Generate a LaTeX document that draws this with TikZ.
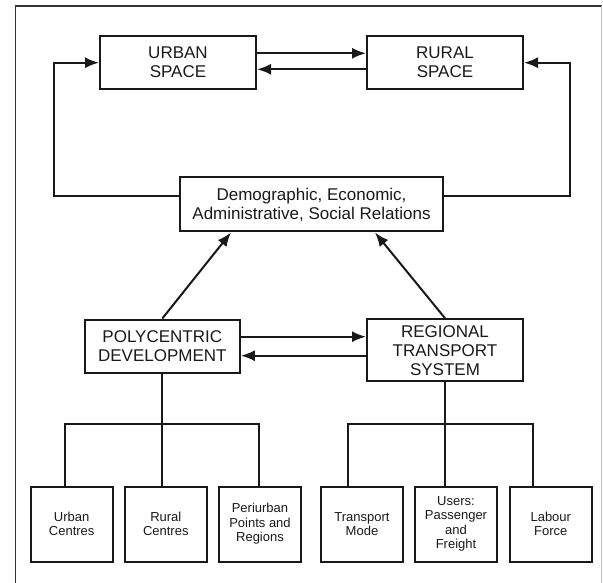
\documentclass[tikz,border=0pt]{standalone}
\usepackage{fontspec}
\setmainfont{Liberation Sans}
\usetikzlibrary{arrows.meta}

\begin{document}
\begin{tikzpicture}[x=1pt,y=-1pt,line width=2pt,color=black!90,
  box/.style={draw,align=center,inner sep=0pt,font=\fontsize{17}{19}\selectfont},
  leaf/.style={box,minimum width=82pt,minimum height=75pt,font=\fontsize{13}{14.5}\selectfont},
  arr/.style={-{Latex[length=14pt,width=11pt]}}]
\useasboundingbox (0,0) rectangle (603,583);
% frame
\draw[line width=1.5pt,black!80] (15.5,583) -- (15.5,6) -- (601.7,6);
\draw[line width=1pt,black!25] (601.7,6) -- (601.7,583);

% top row
\node[box,minimum width=156pt,minimum height=53pt] (urban) at (178,62.7) {URBAN\\SPACE};
\node[box,minimum width=156pt,minimum height=53pt] (rural) at (445,62.7) {RURAL\\SPACE};
\node[box,minimum width=263pt,minimum height=54pt] (demo) at (311.5,204.5)
  {Demographic, Economic,\\Administrative, Social Relations};
\node[box,minimum width=155pt,minimum height=53pt] (poly) at (162.3,346) {POLYCENTRIC\\DEVELOPMENT};
\node[box,minimum width=156pt,minimum height=62pt] (reg) at (445,350.2) {REGIONAL\\TRANSPORT\\SYSTEM};

% leaves
\foreach \n/\x/\t in {uc/71.7/{Urban\\Centres},rc/165.8/{Rural\\Centres},
    pp/260/{Periurban\\Points and\\Regions},tm/362/{Transport\\Mode},
    us/456/{Users:\\Passenger\\and\\Freight},lf/550.8/{Labour\\Force}}
  \node[leaf] (\n) at (\x,524) {\t};

% arrows
\draw[arr] ([yshift=9.4pt]urban.east) -- ([yshift=9.4pt]urban.east -| rural.west);
\draw[arr] ([yshift=-6.6pt]rural.west) -- ([yshift=-6.6pt]rural.west -| urban.east);
\coordinate (loopl) at (54,130);
\coordinate (loopr) at (570,130);
\draw[arr] ([yshift=8.8pt]demo.west) -| (loopl) |- (urban.west);
\draw[arr] ([yshift=8.8pt]demo.east) -| (loopr) |- (rural.east);
\draw[arr] (poly.north) -- ([xshift=-80.5pt]demo.south);
\draw[arr] (reg.north) -- ([xshift=63.5pt]demo.south);
\draw[arr] ([yshift=9.3pt]poly.east) -- ([yshift=9.3pt]poly.east -| reg.west);
\draw[arr] ([yshift=-9.7pt]poly.east -| reg.west) -- ([yshift=-9.7pt]poly.east);

% trees
\coordinate (ucb) at (64.6,424.3);
\coordinate (ppb) at (258.5,424.3);
\coordinate (tmb) at (348,424.3);
\coordinate (lfb) at (532.7,424.3);
\draw (ucb |- uc.north) -- (ucb) -- (ppb) -- (ppb |- pp.north);
\draw (poly.south) -- (poly.south |- rc.north);
\draw (tmb |- tm.north) -- (tmb) -- (lfb) -- (lfb |- lf.north);
\draw (reg.south) -- (reg.south |- us.north);
\end{tikzpicture}
\end{document}
